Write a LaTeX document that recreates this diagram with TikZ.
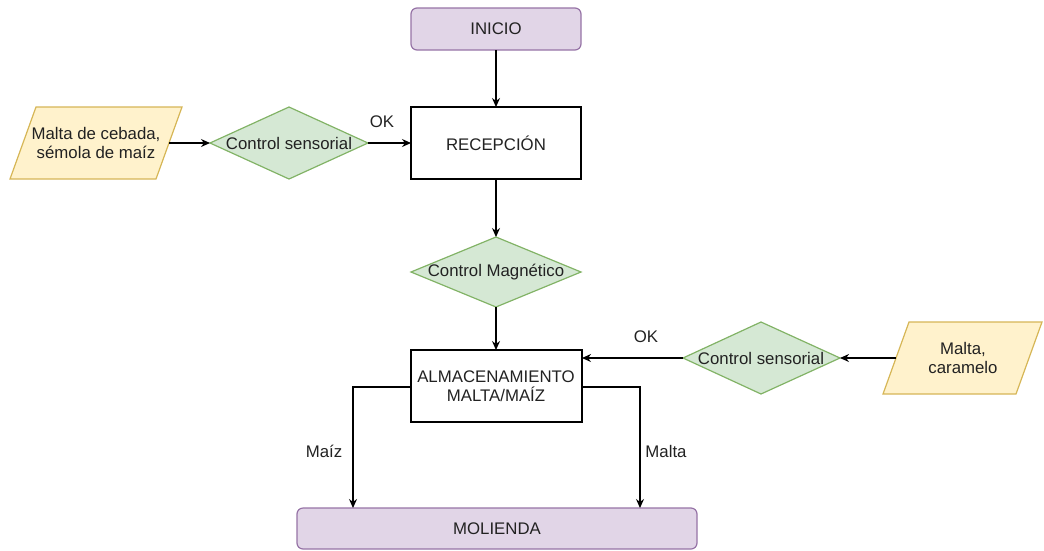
\documentclass[tikz,border=0pt]{standalone}
\usepackage{fontspec}
\setmainfont{Liberation Sans}
\usetikzlibrary{shapes.geometric,arrows.meta}
\definecolor{pfill}{HTML}{E1D5E7}\definecolor{pdraw}{HTML}{9673A6}
\definecolor{gfill}{HTML}{D5E8D4}\definecolor{gdraw}{HTML}{82B366}
\definecolor{yfill}{HTML}{FFF2CC}\definecolor{ydraw}{HTML}{D6B656}
\definecolor{txt}{HTML}{222222}
\begin{document}
\begin{tikzpicture}[x=1pt,y=-1pt,
  every node/.style={font=\fontsize{16.8}{19.5}\selectfont,text=txt,align=center,inner sep=0pt},
  term/.style={draw=pdraw,fill=pfill,rounded corners=6pt,line width=1.2pt},
  proc/.style={draw=black,fill=white,line width=1.2pt},
  dec/.style={draw=gdraw,fill=gfill,line width=1.2pt},
  io/.style={draw=ydraw,fill=yfill,line width=1.2pt},
  arr/.style={draw=black,line width=1.2pt,-{Stealth[length=9pt,width=8pt]}},
  lbl/.style={font=\fontsize{16.8}{19.5}\selectfont}]
\useasboundingbox (0,0) rectangle (1044,550);
% nodes
\filldraw[term] (411,8) rectangle (581,50);
\node (inicio) at (496,29) {INICIO};
\coordinate (inicioB) at (496,50);
\filldraw[proc] (411,107) rectangle (581,179);
\node (recep) at (496,143) {RECEPCIÓN};
\coordinate (recepT) at (496,107);
\coordinate (recepL) at (411,143);
\coordinate (recepB) at (496,179);
\filldraw[io] (36,107) -- (182,107) -- (156,179) -- (10,179) -- cycle;
\node (in1) at (96,143) {Malta de cebada,\\sémola de maíz};
\coordinate (in1R) at (169,143);
\filldraw[dec] (210,143) -- (289,107) -- (368,143) -- (289,179) -- cycle;
\node (cs1) at (289,143) {Control sensorial};
\coordinate (cs1L) at (210,143);
\coordinate (cs1R) at (368,143);
\filldraw[dec] (411,272) -- (496,237) -- (581,272) -- (496,307) -- cycle;
\node (cm) at (496,272) {Control Magnético};
\coordinate (cmT) at (496,237);
\coordinate (cmB) at (496,307);
\filldraw[proc] (411,350) rectangle (582,422);
\node (alm) at (496,386) {ALMACENAMIENTO\\MALTA/MAÍZ};
\coordinate (almT) at (496,350);
\coordinate (almR) at (582,358);
\coordinate (almL2) at (411,387);
\coordinate (almR2) at (582,387);
\filldraw[dec] (683,358) -- (761,322) -- (840,358) -- (761,394) -- cycle;
\node (cs2) at (761,358) {Control sensorial};
\coordinate (cs2L) at (683,358);
\coordinate (cs2R) at (840,358);
\filldraw[io] (909,322) -- (1042,322) -- (1016,394) -- (883,394) -- cycle;
\node (in2) at (963,358) {Malta,\\caramelo};
\coordinate (in2L) at (896,358);
\filldraw[term] (297,508) rectangle (697,549);
\node (mol) at (497,529) {MOLIENDA};
\coordinate (molA) at (353,508);
\coordinate (molB) at (640,508);
% connectors
\draw[arr] (inicioB) -- (recepT);
\draw[arr] (in1R) -- (cs1L);
\draw[arr] (cs1R) -- (recepL);
\draw[arr] (recepB) -- (cmT);
\draw[arr] (cmB) -- (almT);
\draw[arr] (in2L) -- (cs2R);
\draw[arr] (cs2L) -- (almR);
\draw[arr] (almL2) -| (molA);
\draw[arr] (almR2) -| (molB);
\node[lbl] (ok1) at (382,122) {OK};
\node[lbl] (ok2) at (646,337) {OK};
\node[lbl] (maiz) at (324,451) {Maíz};
\node[lbl] (malta) at (666,451) {Malta};
\end{tikzpicture}
\end{document}
